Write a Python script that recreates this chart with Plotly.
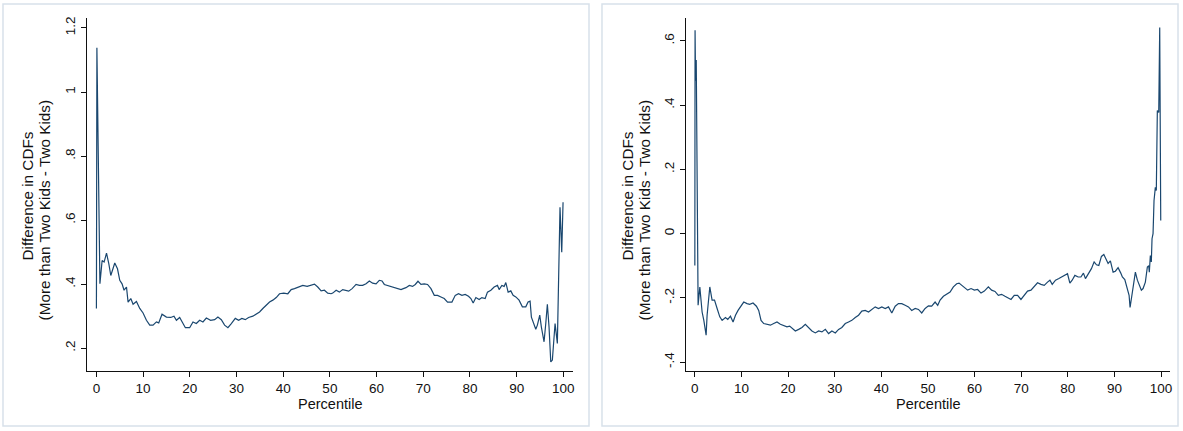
import plotly.graph_objects as go

# Left panel: difference in CDFs by percentile
left_pct = [0.0, 0.1, 0.75, 1.22, 1.65, 2.16, 2.65, 3.08, 3.93, 4.51, 5.00, 5.49, 5.92, 6.44,
            6.78, 7.36, 7.85, 8.57, 9.28, 9.99, 10.71, 11.42, 12.12, 12.85, 13.34, 14.05,
            14.99, 15.91, 16.61, 17.13, 17.83, 18.54, 19.05, 19.97, 20.68, 21.40, 22.11,
            22.81, 23.54, 24.46, 25.32, 26.02, 26.75, 27.45, 28.16, 28.89, 29.74, 30.45,
            31.15, 31.88, 32.59, 33.50, 34.23, 34.94, 35.64, 36.37, 37.08, 37.78, 38.51,
            39.21, 40.13, 40.99, 41.71, 42.42, 43.27, 44.20, 45.14, 45.99, 46.70, 47.40,
            48.13, 48.83, 49.54, 50.27, 50.61, 51.34, 52.04, 52.75, 53.47, 54.03, 54.76,
            55.61, 56.32, 57.02, 57.75, 58.45, 59.16, 59.89, 60.59, 61.17, 61.66, 62.37,
            63.10, 63.80, 64.51, 65.23, 65.73, 66.30, 67.01, 67.71, 68.29, 68.87, 69.51,
            70.22, 70.92, 71.65, 72.36, 73.06, 73.79, 74.49, 75.20, 76.14, 76.85, 77.55,
            78.28, 78.98, 79.69, 80.20, 80.69, 81.27, 81.97, 82.55, 83.26, 83.75, 84.48,
            85.18, 85.89, 86.25, 86.83, 87.32, 87.68, 88.18, 88.75, 89.24, 89.82, 90.52,
            91.23, 91.96, 92.45, 92.88, 93.16, 93.74, 94.10, 94.44, 94.95, 95.30, 95.87,
            96.24, 96.58, 96.94, 97.31, 97.65, 98.23, 98.72, 99.29, 99.66, 99.94]
left_diff = [0.324, 1.138, 0.401, 0.474, 0.469, 0.497, 0.464, 0.427, 0.466, 0.448, 0.412, 0.401,
             0.381, 0.391, 0.344, 0.355, 0.337, 0.346, 0.324, 0.310, 0.287, 0.272, 0.272,
             0.282, 0.279, 0.306, 0.297, 0.296, 0.300, 0.287, 0.296, 0.277, 0.264, 0.264,
             0.282, 0.277, 0.287, 0.282, 0.294, 0.287, 0.289, 0.297, 0.289, 0.272, 0.264,
             0.277, 0.293, 0.287, 0.293, 0.289, 0.296, 0.300, 0.306, 0.313, 0.324, 0.334,
             0.344, 0.350, 0.358, 0.370, 0.372, 0.370, 0.383, 0.386, 0.391, 0.396, 0.393,
             0.398, 0.400, 0.391, 0.379, 0.381, 0.372, 0.370, 0.372, 0.381, 0.375, 0.383,
             0.381, 0.378, 0.386, 0.399, 0.396, 0.396, 0.401, 0.410, 0.403, 0.401, 0.412,
             0.410, 0.399, 0.396, 0.391, 0.389, 0.386, 0.383, 0.386, 0.389, 0.396, 0.393,
             0.399, 0.409, 0.399, 0.401, 0.399, 0.386, 0.365, 0.365, 0.360, 0.355, 0.344,
             0.344, 0.365, 0.370, 0.365, 0.368, 0.362, 0.355, 0.341, 0.358, 0.352, 0.358,
             0.355, 0.375, 0.381, 0.391, 0.396, 0.383, 0.396, 0.393, 0.405, 0.375, 0.379,
             0.365, 0.360, 0.350, 0.329, 0.329, 0.344, 0.347, 0.297, 0.277, 0.259, 0.272,
             0.303, 0.266, 0.220, 0.277, 0.337, 0.266, 0.157, 0.163, 0.277, 0.215, 0.640,
             0.500, 0.656]

# Right panel: difference in CDFs by percentile
right_pct = [0.0, 0.05, 0.15, 0.3, 0.7, 1.07, 1.56, 1.93, 2.42, 2.63, 3.21, 3.70, 4.22, 4.78,
             5.35, 5.85, 6.57, 7.07, 7.64, 8.20, 8.72, 9.27, 9.91, 10.49, 11.20, 11.78,
             12.48, 13.21, 13.70, 14.20, 14.78, 15.48, 16.21, 16.92, 17.62, 18.35, 19.06,
             19.76, 20.34, 20.84, 21.56, 22.27, 22.98, 23.70, 24.41, 25.12, 25.85, 26.55,
             27.26, 27.99, 28.69, 29.40, 30.13, 30.84, 31.54, 32.27, 32.98, 33.68, 34.41,
             35.12, 35.82, 36.55, 37.26, 37.97, 38.69, 39.40, 40.11, 40.84, 41.54, 42.25,
             42.98, 43.68, 44.39, 45.12, 45.82, 46.53, 47.26, 47.97, 48.67, 49.40, 50.11,
             50.81, 51.54, 52.10, 52.61, 53.32, 54.03, 54.75, 55.46, 56.17, 56.68, 57.24,
             57.97, 58.52, 59.25, 59.96, 60.66, 61.39, 62.10, 62.96, 63.66, 64.39, 65.10,
             65.80, 66.53, 67.24, 67.82, 68.52, 69.23, 69.96, 70.66, 71.37, 72.10, 72.81,
             73.51, 74.24, 74.95, 75.65, 76.17, 76.66, 77.37, 78.09, 78.65, 79.38, 79.94,
             80.45, 80.94, 81.52, 82.23, 82.81, 83.36, 83.79, 84.37, 85.07, 85.65, 86.15,
             86.66, 87.22, 87.73, 88.16, 88.65, 89.14, 89.72, 90.21, 90.79, 91.37, 91.71,
             92.23, 92.78, 93.15, 93.36, 93.79, 94.22, 94.50, 94.93, 95.29, 95.78, 96.15,
             96.64, 97.07, 97.37, 97.49, 97.71, 97.92, 98.07, 98.29, 98.50, 98.78, 98.99,
             99.21, 99.51, 99.72, 99.94]
right_diff = [-0.099, 0.633, 0.476, 0.540, -0.223, -0.166, -0.244, -0.270, -0.316, -0.254,
              -0.166, -0.207, -0.207, -0.233, -0.259, -0.270, -0.261, -0.267, -0.257, -0.275,
              -0.254, -0.239, -0.223, -0.213, -0.218, -0.220, -0.216, -0.226, -0.239, -0.270,
              -0.280, -0.282, -0.285, -0.280, -0.275, -0.282, -0.285, -0.290, -0.288, -0.295,
              -0.303, -0.298, -0.292, -0.282, -0.292, -0.303, -0.309, -0.303, -0.306, -0.298,
              -0.311, -0.303, -0.309, -0.298, -0.292, -0.280, -0.275, -0.270, -0.261, -0.254,
              -0.241, -0.239, -0.244, -0.236, -0.228, -0.233, -0.228, -0.233, -0.228, -0.247,
              -0.226, -0.218, -0.218, -0.223, -0.228, -0.239, -0.233, -0.236, -0.247, -0.233,
              -0.225, -0.226, -0.213, -0.223, -0.207, -0.195, -0.189, -0.182, -0.166, -0.156,
              -0.154, -0.161, -0.171, -0.176, -0.171, -0.176, -0.174, -0.185, -0.179, -0.166,
              -0.176, -0.180, -0.192, -0.189, -0.195, -0.202, -0.205, -0.192, -0.192, -0.205,
              -0.192, -0.179, -0.176, -0.166, -0.153, -0.158, -0.161, -0.151, -0.145, -0.158,
              -0.145, -0.140, -0.135, -0.130, -0.125, -0.154, -0.145, -0.130, -0.135, -0.135,
              -0.123, -0.140, -0.125, -0.109, -0.088, -0.097, -0.099, -0.071, -0.065, -0.078,
              -0.093, -0.085, -0.120, -0.117, -0.106, -0.123, -0.135, -0.143, -0.171, -0.192,
              -0.230, -0.182, -0.140, -0.120, -0.145, -0.161, -0.176, -0.171, -0.151, -0.104,
              -0.100, -0.120, -0.068, -0.088, -0.016, 0.000, 0.103, 0.144, 0.134, 0.383,
              0.377, 0.641, 0.041]

x_ticks = [0, 10, 20, 30, 40, 50, 60, 70, 80, 90, 100]
left_yticks = [0.2, 0.4, 0.6, 0.8, 1.0, 1.2]
left_ylabels = [".2", ".4", ".6", ".8", "1", "1.2"]
right_yticks = [-0.4, -0.2, 0.0, 0.2, 0.4, 0.6]
right_ylabels = ["-.4", "-.2", "0", ".2", ".4", ".6"]

W, H = 1183, 431
FONT = "Liberation Sans, Arial, sans-serif"
LINE_COLOR = "#1a476f"


def px(x):
    return x / W


def py(y):
    return 1 - y / H


fig = go.Figure()
fig.add_trace(go.Scatter(x=left_pct, y=left_diff, mode="lines", xaxis="x", yaxis="y",
                         line=dict(color=LINE_COLOR, width=1.2), showlegend=False))
fig.add_trace(go.Scatter(x=right_pct, y=right_diff, mode="lines", xaxis="x2", yaxis="y2",
                         line=dict(color=LINE_COLOR, width=1.2), showlegend=False))

axis_common = dict(showline=True, linecolor="#111", linewidth=1, ticks="outside",
                   ticklen=5, tickwidth=1, tickcolor="#111", showgrid=False,
                   zeroline=False, tickfont=dict(family=FONT, size=13.5, color="#111"))

fig.update_layout(
    width=W, height=H, margin=dict(l=0, r=0, t=0, b=0),
    paper_bgcolor="white", plot_bgcolor="white",
    font=dict(family=FONT, color="#111"),
    xaxis=dict(domain=[px(87), px(573.5)], range=[-2.05, 101.97], anchor="y",
               tickvals=x_ticks, **axis_common),
    yaxis=dict(domain=[py(371), py(17)], range=[0.1283, 1.2312], anchor="x",
               tickvals=left_yticks, ticktext=left_ylabels, tickangle=-90, **axis_common),
    xaxis2=dict(domain=[px(687), px(1172)], range=[-1.93, 101.93], anchor="y2",
                tickvals=x_ticks, **axis_common),
    yaxis2=dict(domain=[py(371), py(17)], range=[-0.428, 0.671], anchor="x2",
                tickvals=right_yticks, ticktext=right_ylabels, tickangle=-90, **axis_common),
)

# Panel frames
for x0, x1 in [(3, 590), (603, 1180)]:
    fig.add_shape(type="rect", xref="paper", yref="paper",
                  x0=px(x0), x1=px(x1), y0=py(426), y1=py(3),
                  line=dict(color="#d8e1ea", width=1.5), fillcolor="rgba(0,0,0,0)",
                  layer="below")

# Axis titles
x_title_font = dict(family=FONT, size=14.5, color="#111")
y_title_font = dict(family=FONT, size=15.3, color="#111")
for xc, yc in [(330.5, 404), (929.5, 404)]:
    fig.add_annotation(text="Percentile", xref="paper", yref="paper", x=px(xc), y=py(yc),
                       showarrow=False, font=x_title_font, xanchor="center", yanchor="middle")
for x1, x2 in [(28, 45), (629, 646)]:
    fig.add_annotation(text="Difference in CDFs", xref="paper", yref="paper",
                       x=px(x1), y=py(195), textangle=-90, showarrow=False,
                       font=y_title_font, xanchor="center", yanchor="middle")
    fig.add_annotation(text="(More than Two Kids - Two Kids)", xref="paper", yref="paper",
                       x=px(x2), y=py(210), textangle=-90, showarrow=False,
                       font=y_title_font, xanchor="center", yanchor="middle")

fig.write_html("out.html")
